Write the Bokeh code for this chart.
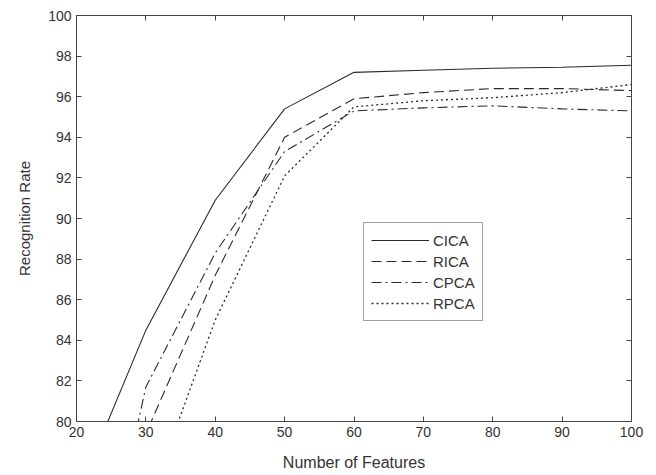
from bokeh.plotting import figure
from bokeh.models import Range1d, LinearAxis, FixedTicker
from bokeh.embed import file_html
from bokeh.resources import INLINE

features = [20, 30, 40, 50, 60, 70, 80, 90, 100]
cica = [76.3, 84.5, 90.9, 95.4, 97.2, 97.3, 97.4, 97.45, 97.55]
rica = [70.0, 79.4, 87.2, 94.0, 95.9, 96.2, 96.4, 96.4, 96.3]
cpca = [66.2, 81.7, 88.3, 93.3, 95.3, 95.45, 95.55, 95.4, 95.3]
rpca = [66.0, 75.6, 85.0, 92.1, 95.5, 95.8, 95.95, 96.2, 96.6]

x_ticks = [20, 30, 40, 50, 60, 70, 80, 90, 100]
y_ticks = [80, 82, 84, 86, 88, 90, 92, 94, 96, 98, 100]

FONT = "Liberation Sans"
TXT = "#333333"
AX = "#444444"

p = figure(width=656, height=475, x_range=Range1d(20, 100), y_range=Range1d(80, 100),
           output_backend="svg", toolbar_location=None,
           min_border_left=76, min_border_right=25, min_border_top=15, min_border_bottom=54)
p.xgrid.visible = False
p.ygrid.visible = False
p.outline_line_color = AX
p.background_fill_color = "white"
p.border_fill_color = "white"

def style_axis(ax, ticks, labels=True):
    ax.ticker = FixedTicker(ticks=ticks)
    ax.major_tick_in = 5
    ax.major_tick_out = 0
    ax.minor_tick_line_color = None
    ax.axis_line_color = AX
    ax.major_tick_line_color = AX
    ax.major_label_text_font = FONT
    ax.major_label_text_font_size = "14px"
    ax.major_label_text_color = TXT
    ax.major_label_standoff = 5
    if not labels:
        ax.major_label_overrides = {t: "" for t in ticks}

style_axis(p.xaxis[0], x_ticks)
style_axis(p.yaxis[0], y_ticks)
p.xaxis[0].axis_label = "Number of Features"
p.yaxis[0].axis_label = "Recognition Rate"
for ax in (p.xaxis[0], p.yaxis[0]):
    ax.axis_label_text_font = FONT
    ax.axis_label_text_font_style = "normal"
    ax.axis_label_text_color = TXT
p.xaxis[0].axis_label_text_font_size = "16px"
p.xaxis[0].axis_label_standoff = 14
p.yaxis[0].axis_label_text_font_size = "15px"
p.yaxis[0].axis_label_standoff = 12

top = LinearAxis()
style_axis(top, x_ticks, labels=False)
p.add_layout(top, "above")
right = LinearAxis()
style_axis(right, y_ticks, labels=False)
p.add_layout(right, "right")

lc = "#2a2a2a"
p.line(features, cica, line_color=lc, line_width=1.1, legend_label="CICA")
p.line(features, rica, line_color=lc, line_width=1.1, line_dash="10 5", legend_label="RICA")
p.line(features, cpca, line_color=lc, line_width=1.1, line_dash="10 4 2 4", legend_label="CPCA")
p.line(features, rpca, line_color=lc, line_width=1.3, line_dash="2 3", legend_label="RPCA")

lg = p.legend[0]
lg.location = (287, 100)
lg.border_line_color = AX
lg.background_fill_color = "white"
lg.label_text_font = FONT
lg.label_text_font_size = "15px"
lg.label_text_color = TXT
lg.glyph_width = 58
lg.glyph_height = 20
lg.label_height = 20
lg.label_standoff = 4
lg.spacing = 1
lg.padding = 7
lg.margin = 0

open("out.html", "w").write(file_html(p, INLINE))
